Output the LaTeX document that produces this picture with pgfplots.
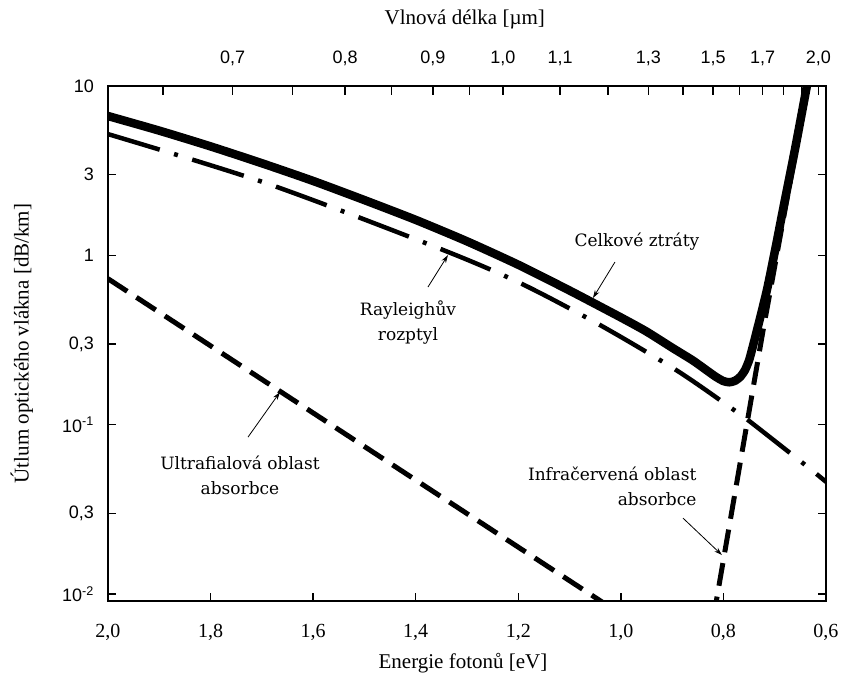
\documentclass[border=0pt]{standalone}
\usepackage{fontspec}
\setmainfont{Liberation Serif}
\newfontfamily\sansf{Liberation Sans}
\newfontfamily\notef{DejaVu Serif}
\usepackage{pgfplots}
\usepackage{pgfplotstable}
\pgfplotsset{compat=1.18}
\usetikzlibrary{arrows.meta}

% celkove ztraty (E [eV], dB/km)
\pgfplotstableread{
E y
2.000 6.65
1.900 5.45
1.800 4.40
1.700 3.50
1.600 2.75
1.500 2.12
1.400 1.62
1.300 1.21
1.200 0.88
1.100 0.62
1.000 0.43
0.950 0.355
0.900 0.285
0.860 0.240
0.835 0.212
0.815 0.192
0.800 0.181
0.788 0.178
0.777 0.182
0.767 0.192
0.758 0.210
0.750 0.240
0.743 0.287
0.733 0.377
0.7152 0.624
0.6996 1.06
0.684 1.85
0.660 4.3
0.637 10.1
}\total

% Rayleighuv rozptyl
\pgfplotstableread{
E y
2.000 5.2
1.692 2.67
1.366 1.135
1.2006 0.696
1.0407 0.388
0.8887 0.207
0.7736 0.1187
0.7444 0.1022
0.6352 0.0562
0.600 0.046
}\rayleigh

% UV absorpce
\pgfplotstableread{
E y
2.000 0.728
1.000 0.0076
}\uv

% IR absorpce
\pgfplotstableread{
E y
0.820 0.0071
0.7226 0.362
0.636 10.0
}\ir

\begin{document}
\begin{tikzpicture}
\useasboundingbox (-108pt,-80pt) rectangle (733pt,601pt);

% horni osa - vlnova delka
\begin{axis}[
  at={(0,0)}, anchor=south west,
  scale only axis, width=718pt, height=515pt,
  xmin=0.6, xmax=2.0, x dir=reverse,
  ymode=log, ymin=0.0091, ymax=10,
  ytick=\empty,
  axis line style={line width=2pt},
  tick align=inside,
  major tick length=9pt, minor tick length=9pt,
  every tick/.style={black, line width=1.5pt},
  xtick pos=right, xticklabel pos=right,
  xtick={1.7571,1.5375,1.3667,1.23,1.1182,0.9462,0.82,0.7235,0.615},
  xticklabels={{0,7},{0,8},{0,9},{1,0},{1,1},{1,3},{1,5},{1,7},{2,0}},
  minor xtick={1.8923,1.64,1.4471,1.2947,1.025,0.8786,0.7688,0.6833,0.6474},
  xticklabel style={font=\sansf\fontsize{18}{18}\selectfont, anchor=center, yshift=28pt},
  xlabel={Vlnová délka [µm]},
  xlabel style={at={(axis description cs:0.497,1.13)}, anchor=center,
    font=\fontsize{21}{21}\selectfont},
]
\end{axis}

\begin{axis}[
  at={(0,0)}, anchor=south west,
  scale only axis, width=718pt, height=515pt,
  xmin=0.6, xmax=2.0, x dir=reverse,
  ymode=log, ymin=0.0091, ymax=10,
  axis line style={line width=2pt},
  tick align=inside,
  major tick length=8pt,
  every tick/.style={black, line width=1.5pt},
  xtick pos=left,
  xtick={0.6,0.8,1.0,1.2,1.4,1.6,1.8,2.0},
  xticklabels={{0,6},{0,8},{1,0},{1,2},{1,4},{1,6},{1,8},{2,0}},
  xticklabel style={font=\fontsize{20}{20}\selectfont, anchor=center, yshift=-31pt},
  ytick={0.01,0.03,0.1,0.3,1,3,10},
  yticklabels={{10\textsuperscript{-2}},{0,3},{10\textsuperscript{-1}},{0,3},{1},{3},{10}},
  yticklabel style={font=\sansf\fontsize{18}{18}\selectfont, anchor=east, inner sep=0pt, xshift=-14pt},
  xlabel={Energie fotonů [eV]},
  xlabel style={at={(axis description cs:0.4944,-0.12)}, anchor=center,
    font=\fontsize{21}{21}\selectfont},
  ylabel={Útlum optického vlákna [dB/km]},
  ylabel style={at={(axis description cs:-0.12,0.5)}, anchor=center,
    font=\fontsize{21}{21}\selectfont},
]
\addplot[black, line width=5pt, dash pattern=on 23pt off 11pt] table[x=E, y=y] {\uv};
\addplot[black, line width=5pt, dash pattern=on 23pt off 11pt] table[x=E, y=y] {\ir};
\addplot[black, line width=4.5pt, smooth, dash pattern=on 54pt off 15pt on 4pt off 15pt] table[x=E, y=y] {\rayleigh};
\addplot[black, line width=8.5pt, smooth, tension=0.4, line join=round] table[x=E, y=y] {\total};

\begin{scope}[font=\notef\fontsize{17}{25}\selectfont]
\node[anchor=center] at (axis cs:0.9686,1.198) {Celkové ztráty};
\node[align=center] at (axis cs:1.4151,0.404) {Rayleighův\\rozptyl};
\node[align=center] at (axis cs:1.7426,0.0504) {Ultrafialová oblast\\absorbce};
\node[align=right, anchor=east] at (axis cs:0.8458,0.0434) {Infračervená oblast\\absorbce};
\end{scope}
\begin{scope}[line width=0.8pt, -{Stealth[length=8pt,width=5pt]}]
\draw (axis cs:1.0115,0.913) -- (axis cs:1.0544,0.560);
\draw (axis cs:1.3761,0.650) -- (axis cs:1.3371,1.004);
\draw (axis cs:1.727,0.0845) -- (axis cs:1.6647,0.1558);
\draw (axis cs:0.8789,0.0281) -- (axis cs:0.8029,0.0170);
\end{scope}
\end{axis}
\end{tikzpicture}
\end{document}
